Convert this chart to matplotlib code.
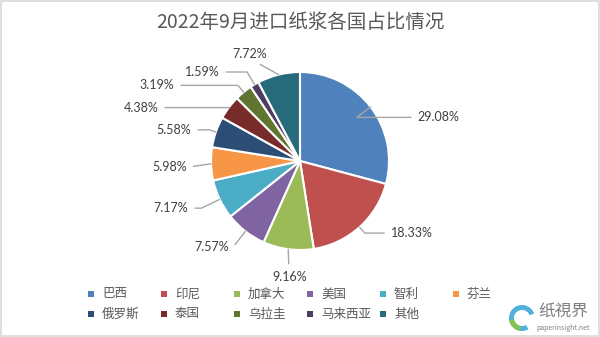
import numpy as np
import matplotlib.pyplot as plt
from matplotlib.patches import Rectangle, Wedge

plt.rcParams['font.family'] = ['Noto Sans CJK SC', 'DejaVu Sans']

# dados: participacao de cada pais na importacao de celulose (set/2022)
paises = ["巴西", "印尼", "加拿大", "美国", "智利", "芬兰",
          "俄罗斯", "泰国", "乌拉圭", "马来西亚", "其他"]
percentuais = [29.08, 18.33, 9.16, 7.57, 7.17, 5.98, 5.58, 4.38, 3.19, 1.59, 7.72]
cores = ["#4F81BD", "#C0504D", "#9BBB59", "#8064A2", "#4BACC6", "#F79646",
         "#2C4D75", "#772C2A", "#5F7530", "#4D3B62", "#276A7C"]

# posicao dos rotulos (unidades do raio da pizza)
pos_rotulos = [(1.56, 0.49), (1.26, -0.81), (-0.12, -1.30), (-0.99, -0.97),
               (-1.45, -0.53), (-1.47, -0.07), (-1.42, 0.35), (-1.79, 0.60),
               (-1.61, 0.85), (-1.10, 1.00), (-0.57, 1.20)]

fig = plt.figure(figsize=(6, 3.37), dpi=100)
fig.patch.set_facecolor("white")
ax = fig.add_axes([0, 0, 1, 1])

R = 89.0  # raio em pixels
wedges, _ = ax.pie(percentuais, colors=cores, startangle=90, counterclock=False,
                   radius=1.0, wedgeprops=dict(edgecolor="white", linewidth=1.5))
ax.set_xlim(-300 / R, 300 / R)
ax.set_ylim(-(337 - 161) / R, 161 / R)
ax.axis("off")

cinza = "#A6A6A6"
for w, p, (tx, ty) in zip(wedges, percentuais, pos_rotulos):
    ang = (w.theta2 + w.theta1) / 2.0
    ex, ey = np.cos(np.deg2rad(ang)), np.sin(np.deg2rad(ang))
    texto = f"{p:.2f}%"
    props = dict(arrowstyle="-", color=cinza, lw=1, shrinkA=3, shrinkB=0)
    if abs(tx) < 0.3:
        # rotulo abaixo: linha reta
        pass
    elif ty > 1.1:
        props.update(shrinkA=2, relpos=(0.6, 0))
    elif abs(ey) < 0.15:
        # quase horizontal: linha reta
        props.update(relpos=(0 if tx > 0 else 1, 0.5))
    else:
        props.update(relpos=(0 if tx > 0 else 1, 0.5),
                     connectionstyle=f"angle,angleA=0,angleB={ang}")
    ax.annotate(texto, xy=(ex, ey), xytext=(tx, ty), ha="center", va="center",
                fontsize=9, color="#404040", family=["Lato", "DejaVu Sans"],
                arrowprops=props)

fig.text(0.5, 1 - 22 / 337, "2022年9月进口纸浆各国占比情况", ha="center", va="center",
         fontsize=14, color="#595959")

# legenda manual, 6 colunas
for i, (nome, cor) in enumerate(zip(paises, cores)):
    col, lin = i % 6, i // 6
    x = 88 + 73 * col
    y = 294 + 20 * lin
    fig.add_artist(Rectangle((x / 600, 1 - (y + 3) / 337), 6 / 600, 6 / 337,
                             transform=fig.transFigure, facecolor=cor, edgecolor="none"))
    fig.text((x + 14) / 600, 1 - y / 337, nome, ha="left", va="center",
             fontsize=9, color="#595959")

# marca d'agua
fig.add_artist(Wedge((522, 337 - 318), 13, 20, 300, width=5,
                     transform=None, facecolor="#3FA9D8", edgecolor="none", alpha=0.9))
fig.add_artist(Wedge((522, 337 - 318), 13, 190, 260, width=5,
                     transform=None, facecolor="#8CC63F", edgecolor="none", alpha=0.9))
fig.text(563 / 600, 1 - 311 / 337, "纸視界", ha="center", va="center",
         fontsize=12, color="#808080")
fig.text(563 / 600, 1 - 328 / 337, "paperinsight.net", ha="center", va="center",
         fontsize=5, color="#808080")

fig.add_artist(Rectangle((0.001, 0.002), 0.997, 0.995, transform=fig.transFigure,
                         fill=False, edgecolor="#D9D9D9", lw=1.2))

fig.savefig("out.png", dpi=100)
